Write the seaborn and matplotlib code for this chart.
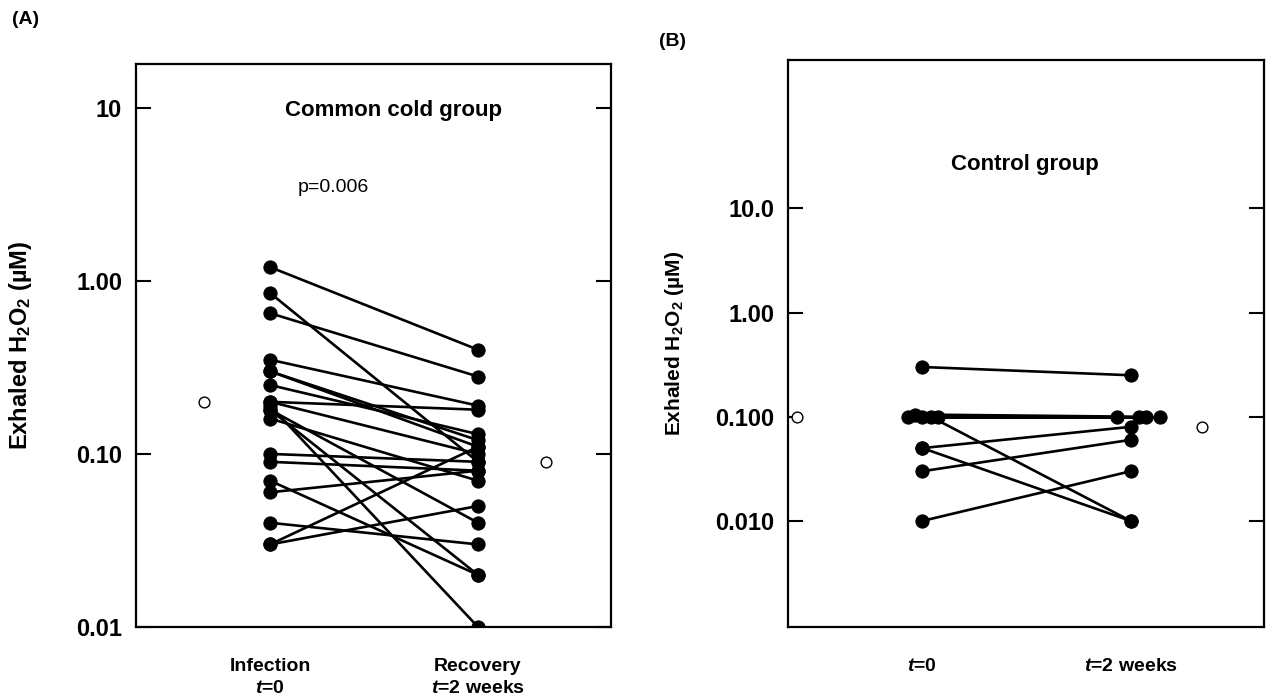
import numpy as np
import pandas as pd
import matplotlib
matplotlib.use('Agg')
import matplotlib.pyplot as plt
import seaborn as sns
from matplotlib.ticker import FixedLocator, NullLocator

# ---- data ----
# (A) common cold group: paired values per subject
cold_infection = [1.2, 0.85, 0.65, 0.35, 0.30, 0.30, 0.25, 0.20, 0.20, 0.19,
                  0.18, 0.18, 0.16, 0.10, 0.09, 0.07, 0.06, 0.04, 0.03, 0.03]
cold_recovery = [0.40, 0.09, 0.28, 0.19, 0.12, 0.11, 0.13, 0.18, 0.10, 0.01,
                 0.02, 0.04, 0.07, 0.09, 0.08, 0.02, 0.08, 0.03, 0.05, 0.11]
cold_median = [0.20, 0.09]

# (B) control group
ctrl_t0 = [0.30, 0.10, 0.105, 0.10, 0.10, 0.10, 0.05, 0.05, 0.03, 0.01]
ctrl_t2 = [0.25, 0.10, 0.10, 0.10, 0.01, 0.10, 0.08, 0.01, 0.06, 0.03]
ctrl_median = [0.10, 0.08]
# small horizontal shifts of overlapping points at 0.1
ctrl_shift_t0 = [0, -0.07, -0.035, 0, 0.04, 0.075, 0, 0, 0, 0]
ctrl_shift_t2 = [0, -0.065, 0.04, 0.075, 0, 0.14, 0, 0, 0, 0]

cold_ticks = [10, 1, 0.1, 0.01]
cold_ticklabels = ['10', '1.00', '0.10', '0.01']
ctrl_ticks = [10, 1, 0.1, 0.01]
ctrl_ticklabels = ['10.0', '1.00', '0.100', '0.010']

# ---- style ----
sns.set_style('white')
plt.rcParams['font.family'] = ['Liberation Sans', 'DejaVu Sans']
plt.rcParams['font.weight'] = 'bold'
plt.rcParams['text.color'] = 'black'
plt.rcParams['axes.labelcolor'] = 'black'
plt.rcParams['xtick.color'] = 'black'
plt.rcParams['ytick.color'] = 'black'
plt.rcParams['mathtext.fontset'] = 'custom'
plt.rcParams['mathtext.rm'] = 'Liberation Sans:bold'
plt.rcParams['mathtext.bf'] = 'Liberation Sans:bold'
plt.rcParams['mathtext.it'] = 'Liberation Sans:italic:bold'

def make_long(v0, v1, s0=None, s1=None):
    n = len(v0)
    s0 = s0 if s0 is not None else [0] * n
    s1 = s1 if s1 is not None else [0] * n
    rows = []
    for i in range(n):
        rows.append({'subject': i, 'x': 1 + s0[i], 'value': v0[i]})
        rows.append({'subject': i, 'x': 2 + s1[i], 'value': v1[i]})
    return pd.DataFrame(rows)

df_a = make_long(cold_infection, cold_recovery)
df_b = make_long(ctrl_t0, ctrl_t2, ctrl_shift_t0, ctrl_shift_t2)

fig = plt.figure(figsize=(12.69, 7.0), dpi=100)
ax_a = fig.add_axes([0.1072, 0.1043, 0.3743, 0.8043])
ax_b = fig.add_axes([0.6210, 0.1043, 0.3751, 0.8100])

ylabel = 'Exhaled H$_{2}$O$_{2}$ (µM)'

def draw_panel(ax, df, med, ylim, ticks, ticklabels, xlabels, med_x, ylab_size):
    ax.set_yscale('log')
    sns.lineplot(data=df, x='x', y='value', units='subject', estimator=None,
                 color='black', lw=1.9, marker='o', markersize=9.5,
                 markeredgecolor='black', markerfacecolor='black', ax=ax)
    sns.scatterplot(x=med_x, y=med, s=60, facecolor='white',
                    edgecolor='black', linewidth=1.0, ax=ax, zorder=3)
    ax.set_xlim(0.355, 2.64)
    ax.set_ylim(*ylim)
    ax.yaxis.set_major_locator(FixedLocator(ticks))
    ax.yaxis.set_minor_locator(NullLocator())
    ax.set_yticklabels(ticklabels)
    ax.set_xticks([1, 2])
    ax.set_xticklabels(xlabels, fontsize=14, fontweight='bold', linespacing=1.45)
    ax.tick_params(axis='y', direction='in', length=11, width=1.5,
                   left=True, right=True, labelsize=17, pad=10)
    ax.tick_params(axis='x', length=0, pad=22)
    for s in ax.spines.values():
        s.set_visible(True)
        s.set_linewidth(1.6)
        s.set_color('black')
    ax.set_xlabel('')
    ax.set_ylabel(ylabel, fontsize=ylab_size, fontweight='bold')
    ax.yaxis.set_label_coords(-0.215, 0.5)

draw_panel(ax_a, df_a, cold_median, (0.01, 17.9), cold_ticks, cold_ticklabels,
           ['Infection\n$\\mathit{t}$=0', 'Recovery\n$\\mathit{t}$=2 weeks'],
           [0.684, 2.325], 17)
draw_panel(ax_b, df_b, ctrl_median, (0.00096, 265), ctrl_ticks, ctrl_ticklabels,
           ['$\\mathit{t}$=0', '$\\mathit{t}$=2 weeks'],
           [0.396, 2.343], 15)

ax_a.text(0.541, 0.918, 'Common cold group', transform=ax_a.transAxes,
          ha='center', va='center', fontsize=16, fontweight='bold')
ax_a.text(0.415, 0.781, 'p=0.006', transform=ax_a.transAxes,
          ha='center', va='center', fontsize=14, fontweight='normal')
ax_b.text(0.498, 0.815, 'Control group', transform=ax_b.transAxes,
          ha='center', va='center', fontsize=16, fontweight='bold')

fig.text(0.020, 0.972, '(A)', ha='center', va='center', fontsize=14, fontweight='bold')
fig.text(0.530, 0.940, '(B)', ha='center', va='center', fontsize=14, fontweight='bold')

fig.savefig('out.png', dpi=100)
